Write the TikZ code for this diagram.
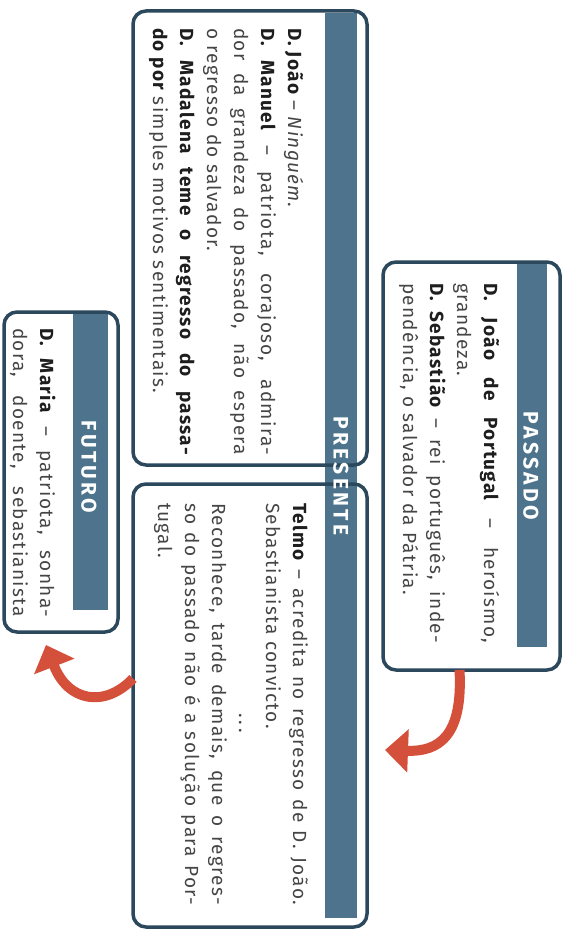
\documentclass[tikz,border=0pt]{standalone}
\usepackage{fontspec}
\setmainfont{Fira Sans}[LetterSpace=7]
\newfontfamily\headfont{Fira Sans}[LetterSpace=16]
\usepackage{xcolor}
\usetikzlibrary{arrows.meta}
\definecolor{boxline}{HTML}{2C485C}
\definecolor{bandblue}{HTML}{4D748C}
\definecolor{arrowred}{HTML}{D5503A}
\definecolor{bodygrey}{HTML}{454545}
\definecolor{ink}{HTML}{1E1E1E}
\newcommand{\who}[1]{{\bfseries\color{ink}#1}}

\begin{document}
\begin{tikzpicture}[x=1pt, y=-1pt,
    boxframe/.style={draw=boxline, line width=3.5pt, rounded corners=13pt, inner sep=0pt, outer sep=0pt},
    band/.style={fill=bandblue},
    headtext/.style={rotate=-90, text=white, inner sep=0pt, font=\headfont\bfseries\fontsize{21}{21}\selectfont},
    bodytext/.style={rotate=-90, anchor=base west, inner sep=0pt, align=justify, text=bodygrey, font=\fontsize{19}{27}\selectfont},
    turnarrow/.style={draw=arrowred, line width=10pt, -{Triangle[length=23pt, width=42pt]}}]
    \fill[white] (0,0) rectangle (574,931);
    \useasboundingbox (0,0) rectangle (574,931);

    % header bands
    \fill[band] (517,263.75) rectangle (547,647);
    \fill[band] (325,12.75) rectangle (357,918);
    \fill[band] (73,313.75) rectangle (108,610);

    % boxes
    \node[boxframe, minimum width=177pt, minimum height=408pt] (passado) at (471.5,466) {};
    \node[boxframe, minimum width=234pt, minimum height=454pt] (presenteA) at (250,238) {};
    \node[boxframe, minimum width=234pt, minimum height=443pt] (presenteB) at (250,705.5) {};
    \node[boxframe, minimum width=114pt, minimum height=320pt] (futuro) at (61,472) {};

    % headers
    \node[headtext] (hpassado) at (531,466) {PASSADO};
    \node[headtext] (hpresente) at (341,476) {PRESENTE};
    \node[headtext] (hfuturo) at (89,467) {FUTURO};

    % texts
    \node[bodytext, text width=360pt] (tpassado) at (484,283)
    {\who{D. João de Portugal} – heroísmo,\linebreak grandeza.\par
     \who{D. Sebastião} – rei português, inde-\linebreak pendência, o salvador da Pátria.};
    \node[bodytext, text width=427pt] (tpresenteA) at (288,28)
    {\who{D. João} – \textit{Ninguém}.\par
     \who{D. Manuel} – patriota, corajoso, admira-\linebreak dor da grandeza do passado, não espera\linebreak o regresso do salvador.\par
     \who{D. Madalena teme o regresso do passa-\linebreak do por} simples motivos sentimentais.};
    \node[bodytext, text width=402pt] (tpresenteB) at (293,503)
    {\who{Telmo} – acredita no regresso de D. João.\linebreak Sebastianista convicto.\par
     {\centering\hspace*{2em}.\,.\,.\par}
     Reconhece, tarde demais, que o regres-\linebreak so do passado não é a solução para Por-\linebreak tugal.};
    \node[bodytext, text width=289pt] (tfuturo) at (40,328)
    {\parfillskip=0pt \who{D. Maria} – patriota, sonha-\linebreak dora, doente, sebastianista\par};

    % arrows
    \coordinate (tip1) at (385,750);
    \coordinate (tip2) at (46,645);
    \draw[turnarrow] ([xshift=-12pt]passado.south) .. controls (463,735) and (440,752) .. (tip1);
    \draw[turnarrow] ([yshift=27pt]presenteB.west) .. controls (105,708) and (68,702) .. (tip2);
\end{tikzpicture}
\end{document}
